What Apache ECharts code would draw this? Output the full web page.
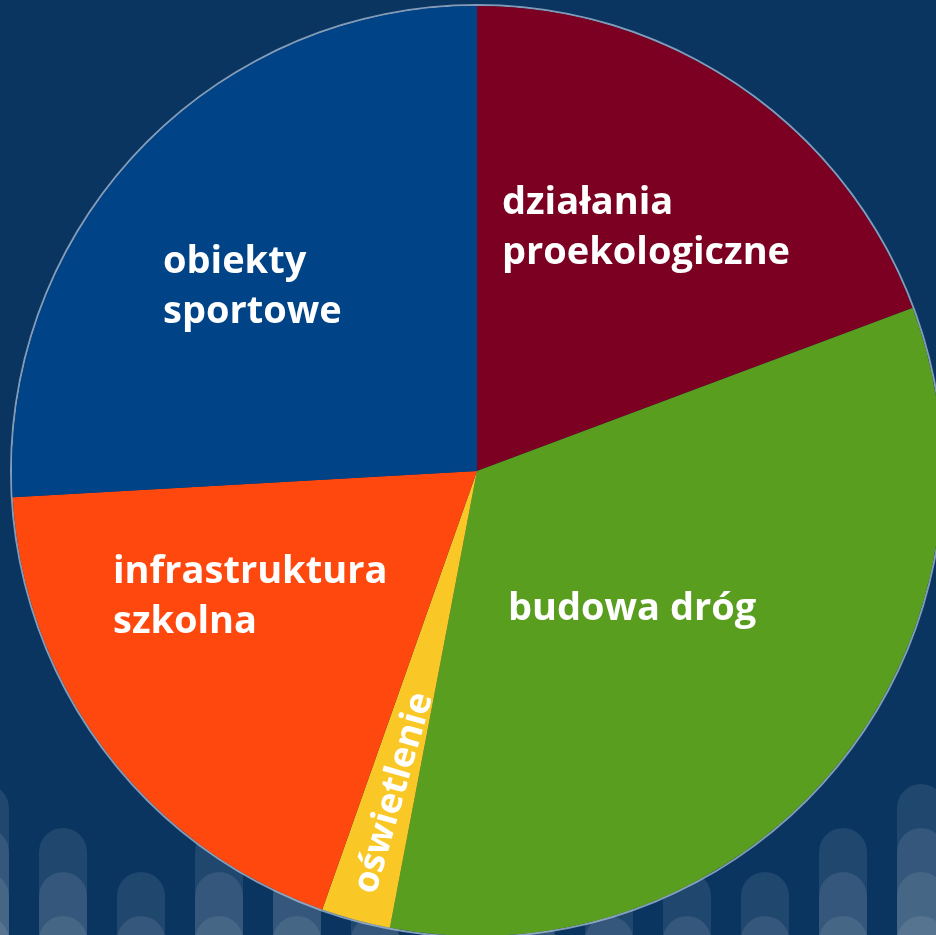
<!DOCTYPE html>
<html>
<head>
<meta charset="utf-8">
<script src="https://cdn.jsdelivr.net/npm/echarts@6/dist/echarts.min.js"></script>
<style>
  html, body { margin: 0; padding: 0; background: #0a3560; overflow: hidden; }
  #chart { width: 936px; height: 935px; }
</style>
</head>
<body>
<div id="chart"></div>
<script>
// udziały inwestycji (w %)
const categories = ['działania\nproekologiczne', 'budowa dróg', 'oświetlenie', 'infrastruktura\nszkolna', 'obiekty\nsportowe']
const values = [19.3, 33.7, 2.4, 18.7, 25.9]

// dekoracyjne słupki w tle (liczba warstw w kolumnie)
const stripeColumns = ['c1', 'c2', 'c3', 'c4', 'c5', 'c6', 'c7', 'c8', 'c9', 'c10', 'c11', 'c12', 'c13']
const stripeLayers = [4, 3, 2, 3, 3, 2, 2, 2, 2, 2, 2, 3, 4]
const layerTops = [59, 103, 147, 191]

const colors = ['#7b0022', '#599e1e', '#fac826', '#ff480e', '#004386']
// położenie etykiet [x, y, wyrównanie]
const labelPos = [
  [502, 228, 'left'],
  [508, 609, 'left'],
  [394, 793, 'center'],
  [113, 597, 'left'],
  [163, 287, 'left']
]

const chart = echarts.init(document.getElementById('chart'))

const stripeSeries = layerTops.map((top, k) => ({
  type: 'bar',
  z: 1,
  silent: true,
  barWidth: 48,
  barGap: '-100%',
  data: stripeLayers.map(n => (n > k ? top : '-')),
  itemStyle: {
    color: 'rgba(255,255,255,0.09)',
    borderRadius: [24, 24, 0, 0]
  }
}))

const option = {
  backgroundColor: '#0a3560',
  animation: false,
  grid: { left: -54, width: 1014, top: 735, bottom: -40, outerBoundsMode: 'none', containLabel: false },
  xAxis: { type: 'category', data: stripeColumns, show: false },
  yAxis: { type: 'value', min: 0, max: 240, show: false },
  series: [
    ...stripeSeries,
    {
      type: 'pie',
      z: 3,
      silent: true,
      center: [477, 471],
      radius: [465, 467],
      label: { show: false },
      labelLine: { show: false },
      data: [{ value: 1, name: 'rim', itemStyle: { color: 'rgba(170,190,215,0.75)' } }]
    },
    {
      type: 'pie',
      z: 4,
      center: [477, 471],
      radius: [0, 465],
      startAngle: 90,
      clockwise: true,
      avoidLabelOverlap: false,
      itemStyle: { borderWidth: 0 },
      label: {
        show: true,
        position: 'inside',
        formatter: '{b}',
        color: '#ffffff',
        fontFamily: 'Open Sans',
        fontWeight: 'bold',
        fontSize: 38,
        lineHeight: 50
      },
      labelLine: { show: false },
      labelLayout: function (params) {
        const p = labelPos[params.dataIndex]
        return { x: p[0], y: p[1], align: p[2], verticalAlign: 'middle' }
      },
      data: categories.map((name, i) => ({
        name: name,
        value: values[i],
        itemStyle: { color: colors[i] },
        label: i === 2 ? { rotate: 74, fontSize: 36 } : {}
      }))
    }
  ]
}

chart.setOption(option)
</script>
</body>
</html>
